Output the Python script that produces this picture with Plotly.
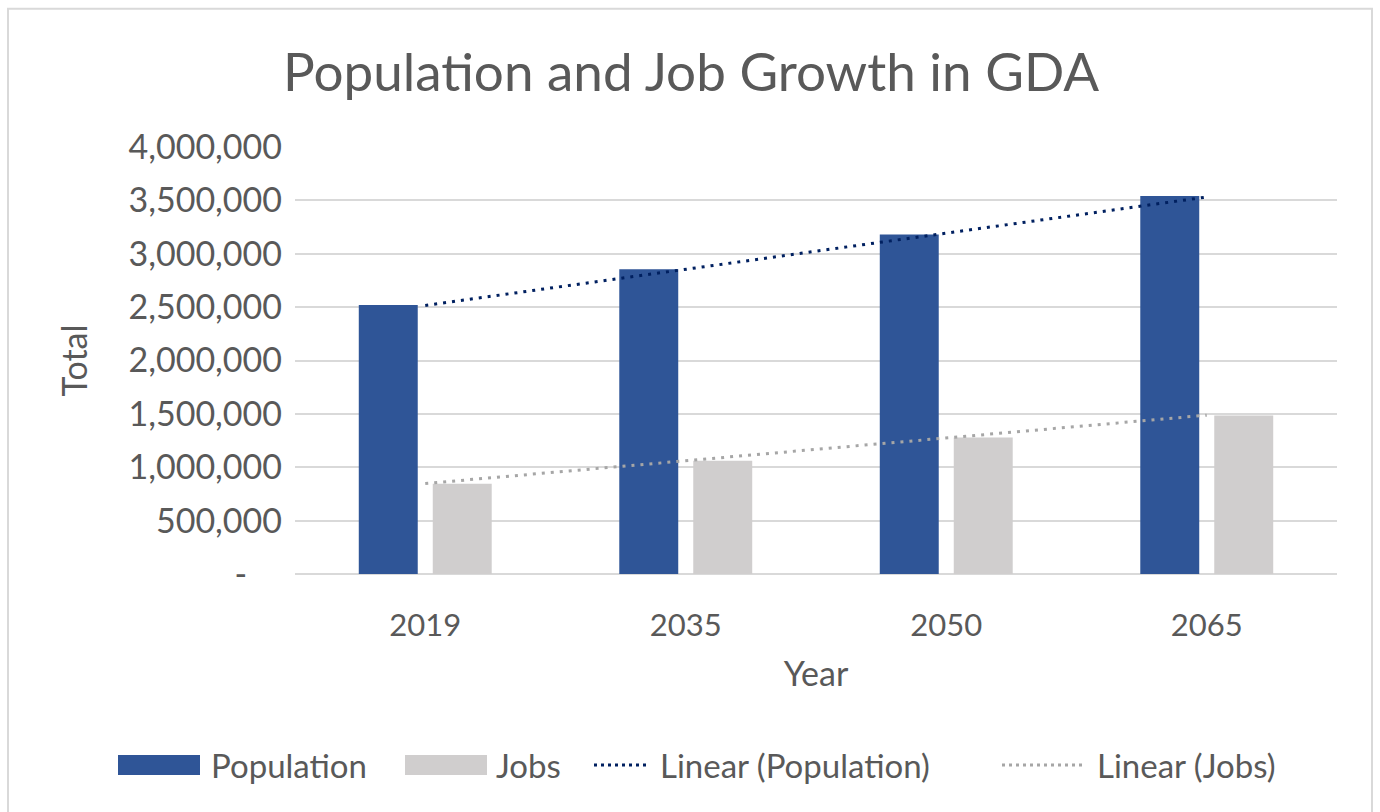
import numpy as np
import plotly.graph_objects as go

years = ["2019", "2035", "2050", "2065"]
population = [2520000, 2855000, 3180000, 3540000]
jobs = [846000, 1061000, 1279000, 1485000]
y_tickvals = [0, 500000, 1000000, 1500000, 2000000, 2500000, 3000000, 3500000, 4000000]
y_ticktext = ["-\u00a0\u00a0\u00a0\u00a0", "500,000", "1,000,000", "1,500,000", "2,000,000",
              "2,500,000", "3,000,000", "3,500,000", "4,000,000"]

POP_C = "#2F5597"
JOB_C = "#D0CECE"
POP_T = "#002060"
JOB_T = "#A6A6A6"
TXT = "#595959"
FONT = "Lato"

idx = np.arange(1, len(years) + 1)
pop_fit = np.polyval(np.polyfit(idx, population, 1), idx)
job_fit = np.polyval(np.polyfit(idx, jobs, 1), idx)

fig = go.Figure()
fig.add_trace(go.Bar(x=years, y=population, name="Population", marker_color=POP_C, marker_line_width=0))
fig.add_trace(go.Bar(x=years, y=jobs, name="Jobs", marker_color=JOB_C, marker_line_width=0))
fig.add_trace(go.Scatter(x=years, y=pop_fit, mode="lines", name="Linear (Population)",
                         line=dict(color=POP_T, width=3, dash="3px,6px")))
fig.add_trace(go.Scatter(x=years, y=job_fit, mode="lines", name="Linear (Jobs)",
                         line=dict(color=JOB_T, width=3, dash="3px,6px")))

L, R, T, B = 295, 1337, 146.5, 574.5
W, H = 1380, 812
def px(x):
    return (x - L) / (R - L)
def py(y):
    return (B - y) / (B - T)

shapes = [dict(type="rect", xref="paper", yref="paper", x0=px(8), x1=px(1372), y0=py(830), y1=py(8),
               line=dict(color="#D9D9D9", width=2), fillcolor="rgba(0,0,0,0)", layer="below")]
annotations = []
leg_y = 766
items = [
    ("bar", POP_C, 118, 200, 209, "Population"),
    ("bar", JOB_C, 405, 487, 494, "Jobs"),
    ("line", POP_T, 594, 650, 658, "Linear (Population)"),
    ("line", JOB_T, 1002, 1084, 1095, "Linear (Jobs)"),
]
for kind, col, x0, x1, tx, label in items:
    if kind == "bar":
        shapes.append(dict(type="rect", xref="paper", yref="paper", x0=px(x0), x1=px(x1),
                           y0=py(leg_y + 10), y1=py(leg_y - 10), line=dict(width=0), fillcolor=col))
    else:
        shapes.append(dict(type="line", xref="paper", yref="paper", x0=px(x0), x1=px(x1),
                           y0=py(leg_y), y1=py(leg_y), line=dict(color=col, width=3, dash="3px,4px")))
    annotations.append(dict(text=label, xref="paper", yref="paper", x=px(tx), y=py(leg_y),
                            xanchor="left", yanchor="middle", showarrow=False,
                            font=dict(family=FONT, size=33, color=TXT)))

fig.update_layout(
    width=W, height=H,
    margin=dict(l=L, r=W - R, t=T, b=H - B, pad=0),
    paper_bgcolor="white", plot_bgcolor="white",
    showlegend=False,
    barmode="group", bargap=0.432, bargroupgap=0.203,
    title=dict(text="Population and Job Growth in GDA", x=691 / W, xanchor="center",
               y=1 - 72 / H, yanchor="middle", yref="container",
               font=dict(family=FONT, size=53, color=TXT)),
    font=dict(family=FONT, color=TXT),
    shapes=shapes, annotations=annotations,
)
fig.update_yaxes(range=[0, 4000000], tickvals=y_tickvals, ticktext=y_ticktext,
                 showgrid=True, gridcolor="#D9D9D9", gridwidth=2,
                 zeroline=True, zerolinecolor="#D9D9D9", zerolinewidth=2,
                 ticks="", ticklabelstandoff=12,
                 tickfont=dict(family=FONT, size=34, color=TXT),
                 title=dict(text="Total", standoff=30, font=dict(family=FONT, size=34, color=TXT)))
fig.update_xaxes(showgrid=False, showline=False, ticks="", ticklabelstandoff=30,
                 tickfont=dict(family=FONT, size=31, color=TXT),
                 title=dict(text="Year", standoff=20, font=dict(family=FONT, size=34, color=TXT)))

fig.write_html("out.html")
